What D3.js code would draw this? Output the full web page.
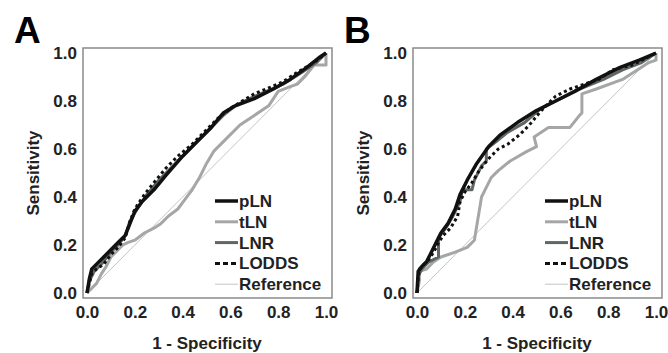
<!DOCTYPE html>
<html>
<head>
<meta charset="utf-8">
<script src="https://cdn.jsdelivr.net/npm/d3@7"></script>
<style>
  body { margin: 0; background: #fff; }
  svg { display: block; font-family: "Liberation Sans", Arial, sans-serif; font-weight: bold; }
</style>
</head>
<body>
<div id="chart"></div>
<script>
// ROC curves, [1 - specificity, sensitivity]
const ticks = [0, 0.2, 0.4, 0.6, 0.8, 1.0];
const seriesNames = ['pLN', 'tLN', 'LNR', 'LODDS', 'Reference'];
const referenceLine = [[0, 0], [1, 1]];

const pLN_A = [[0,0],[0.01,0.06],[0.02,0.10],[0.04,0.12],[0.07,0.15],[0.10,0.18],[0.13,0.21],[0.16,0.24],[0.18,0.29],[0.20,0.34],[0.23,0.38],[0.28,0.43],[0.33,0.49],[0.40,0.57],[0.46,0.63],[0.52,0.69],[0.57,0.75],[0.62,0.78],[0.70,0.81],[0.78,0.85],[0.85,0.89],[0.92,0.94],[0.97,0.98],[1,1]];
const tLN_A = [[0,0],[0.02,0.02],[0.04,0.04],[0.06,0.08],[0.08,0.11],[0.10,0.15],[0.12,0.17],[0.15,0.20],[0.17,0.21],[0.20,0.22],[0.24,0.25],[0.28,0.27],[0.31,0.29],[0.34,0.32],[0.38,0.35],[0.41,0.39],[0.44,0.43],[0.47,0.48],[0.50,0.54],[0.53,0.59],[0.58,0.64],[0.64,0.70],[0.70,0.74],[0.76,0.78],[0.80,0.84],[0.85,0.86],[0.88,0.87],[0.91,0.90],[0.95,0.95],[1,0.95],[1,1]];
const LNR_A = [[0,0],[0.01,0.05],[0.03,0.09],[0.06,0.12],[0.10,0.17],[0.13,0.20],[0.16,0.24],[0.18,0.30],[0.21,0.35],[0.25,0.41],[0.30,0.47],[0.35,0.52],[0.40,0.57],[0.46,0.63],[0.52,0.69],[0.57,0.74],[0.62,0.78],[0.68,0.81],[0.75,0.84],[0.82,0.87],[0.90,0.92],[0.96,0.96],[1,1]];
const LODDS_A = [[0,0],[0.01,0.04],[0.02,0.08],[0.04,0.10],[0.07,0.12],[0.10,0.16],[0.13,0.19],[0.16,0.23],[0.18,0.30],[0.20,0.35],[0.24,0.41],[0.28,0.46],[0.33,0.52],[0.38,0.57],[0.44,0.62],[0.50,0.68],[0.55,0.73],[0.60,0.77],[0.65,0.80],[0.70,0.83],[0.75,0.85],[0.82,0.88],[0.88,0.92],[0.95,0.96],[1,1]];

const pLN_B = [[0,0],[0.005,0.09],[0.02,0.11],[0.04,0.13],[0.06,0.17],[0.08,0.21],[0.10,0.25],[0.13,0.29],[0.16,0.35],[0.18,0.41],[0.21,0.47],[0.25,0.54],[0.30,0.61],[0.35,0.66],[0.42,0.71],[0.50,0.76],[0.58,0.80],[0.66,0.84],[0.75,0.89],[0.85,0.94],[0.93,0.97],[1,1]];
const tLN_B = [[0,0],[0.01,0.05],[0.01,0.09],[0.04,0.10],[0.07,0.13],[0.10,0.15],[0.16,0.17],[0.21,0.19],[0.24,0.22],[0.25,0.28],[0.26,0.34],[0.27,0.40],[0.29,0.44],[0.31,0.48],[0.34,0.51],[0.39,0.55],[0.46,0.59],[0.50,0.61],[0.49,0.65],[0.55,0.69],[0.64,0.69],[0.68,0.74],[0.69,0.75],[0.69,0.83],[0.75,0.85],[0.86,0.89],[0.97,0.96],[1,0.97],[1,1]];
const LNR_B = [[0,0],[0.005,0.07],[0.02,0.10],[0.05,0.13],[0.09,0.15],[0.09,0.23],[0.12,0.27],[0.15,0.32],[0.18,0.38],[0.19,0.43],[0.23,0.43],[0.24,0.47],[0.27,0.53],[0.29,0.55],[0.29,0.60],[0.33,0.63],[0.38,0.67],[0.45,0.71],[0.52,0.77],[0.60,0.81],[0.68,0.85],[0.78,0.89],[0.86,0.93],[0.94,0.96],[1,1]];
const LODDS_B = [[0,0],[0.005,0.06],[0.01,0.10],[0.03,0.12],[0.05,0.14],[0.07,0.17],[0.09,0.21],[0.11,0.24],[0.14,0.27],[0.17,0.32],[0.18,0.38],[0.20,0.42],[0.23,0.46],[0.26,0.51],[0.30,0.56],[0.34,0.60],[0.38,0.62],[0.43,0.66],[0.47,0.70],[0.52,0.76],[0.58,0.82],[0.64,0.85],[0.70,0.87],[0.76,0.89],[0.82,0.93],[0.90,0.95],[0.96,0.98],[1,1]];

const styles = {
  pLN: { stroke: '#111', width: 3.5, dash: null },
  tLN: { stroke: '#a6a6a6', width: 3, dash: null },
  LNR: { stroke: '#5e6765', width: 3, dash: null },
  LODDS: { stroke: '#111', width: 3, dash: '3,3' },
  Reference: { stroke: '#c4c4c4', width: 1, dash: null },
};

const width = 668;
const height = 353;
const svg = d3.select('#chart').append('svg').attr('width', width).attr('height', height);

function drawPanel(offsetX, letter, curves) {
  const g = svg.append('g').attr('transform', `translate(${offsetX},0)`);
  const x = d3.scaleLinear().domain([0, 1]).range([87, 326]);
  const y = d3.scaleLinear().domain([0, 1]).range([293, 53]);

  // frame
  g.append('rect')
    .attr('x', 83).attr('y', 48)
    .attr('width', 249).attr('height', 250)
    .attr('fill', 'none').attr('stroke', '#8a8a8a').attr('stroke-width', 1.5);

  const xAxis = g.append('g').attr('transform', 'translate(0,300)')
    .call(d3.axisBottom(x).tickValues(ticks).tickSize(0).tickPadding(6).tickFormat(d3.format('.1f')));
  const yAxis = g.append('g').attr('transform', 'translate(81,0)')
    .call(d3.axisLeft(y).tickValues(ticks).tickSize(0).tickPadding(4).tickFormat(d3.format('.1f')));
  [xAxis, yAxis].forEach((a) => {
    a.select('.domain').remove();
    a.selectAll('text').attr('font-size', 17).attr('font-weight', 'bold').attr('fill', '#222')
      .attr('font-family', '"Liberation Sans", Arial, sans-serif');
  });

  const line = d3.line().x((d) => x(d[0])).y((d) => y(d[1]));

  // draw order: reference first, dotted LODDS on top
  ['Reference', 'tLN', 'LNR', 'pLN', 'LODDS'].forEach((name) => {
    const s = styles[name];
    g.append('path')
      .datum(curves[name])
      .attr('d', line)
      .attr('fill', 'none')
      .attr('stroke', s.stroke)
      .attr('stroke-width', s.width)
      .attr('stroke-linejoin', 'round')
      .attr('stroke-dasharray', s.dash);
  });

  // legend
  const legend = g.append('g').attr('class', 'legend');
  seriesNames.forEach((name, i) => {
    const s = styles[name];
    const ly = 201 + i * 20.8;
    legend.append('line')
      .attr('x1', 215).attr('x2', 238).attr('y1', ly).attr('y2', ly)
      .attr('stroke', s.stroke).attr('stroke-width', s.width)
      .attr('stroke-dasharray', name === 'LODDS' ? '5,3' : s.dash);
    legend.append('text')
      .attr('x', 239).attr('y', ly + 6)
      .attr('font-size', 17).attr('fill', '#222')
      .text(name);
  });

  g.append('text')
    .attr('x', 207).attr('y', 349)
    .attr('text-anchor', 'middle').attr('font-size', 17).attr('fill', '#222')
    .text('1 - Specificity');

  g.append('text')
    .attr('transform', 'translate(39,173) rotate(-90)')
    .attr('text-anchor', 'middle').attr('font-size', 17).attr('fill', '#222')
    .text('Sensitivity');

  g.append('text')
    .attr('x', 14).attr('y', 43)
    .attr('font-size', 37).attr('fill', '#000')
    .text(letter);
}

drawPanel(0, 'A', { pLN: pLN_A, tLN: tLN_A, LNR: LNR_A, LODDS: LODDS_A, Reference: referenceLine });
drawPanel(330, 'B', { pLN: pLN_B, tLN: tLN_B, LNR: LNR_B, LODDS: LODDS_B, Reference: referenceLine });
</script>
</body>
</html>
